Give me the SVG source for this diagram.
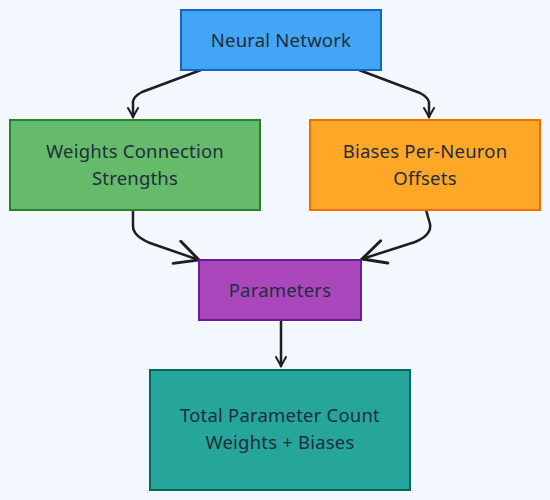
<svg xmlns="http://www.w3.org/2000/svg" width="550" height="500" viewBox="0 0 550 500">
<defs>
<style>
.lbl{font-family:"Noto Sans","Open Sans",sans-serif;font-size:18.5px;fill:#1f2d3d;text-anchor:middle;letter-spacing:0.2px}
.box{stroke-width:2}
.edge{fill:none;stroke:#1e1e1e;stroke-width:2.5;stroke-linecap:round}
</style>
<marker id="arr" viewBox="0 0 12 12" refX="10" refY="6" markerWidth="12" markerHeight="12" markerUnits="userSpaceOnUse" orient="auto">
<path d="M1,1 L10,6 L1,11" fill="none" stroke="#1e1e1e" stroke-width="2" stroke-linecap="round"/>
</marker>
<marker id="arrL" viewBox="0 0 24 24" refX="22" refY="12" markerWidth="28" markerHeight="28" markerUnits="userSpaceOnUse" orient="auto">
<path d="M2,2 L22,12 L2,22" fill="none" stroke="#1e1e1e" stroke-width="2.5" stroke-linecap="round"/>
</marker>
</defs>
<rect width="550" height="500" fill="#f3f7fe"/>
<g id="connectors">
<path class="edge" d="M201,70 L142,92 Q132,97 133,104 L133,117" marker-end="url(#arr)"/>
<path class="edge" d="M359,70 L420,93 Q430,98 429,105 L429,117" marker-end="url(#arr)"/>
<path class="edge" d="M133,210 L133,226 Q133,236 150,243 L199,260" marker-end="url(#arrL)"/>
<path class="edge" d="M426,210 L430,224 Q432,235 415,242 L362,259" marker-end="url(#arrL)"/>
<path class="edge" d="M281,320 L281,366" stroke-width="2" marker-end="url(#arr)"/>
</g>
<g id="neural-network">
<rect class="box" x="181" y="10" width="200" height="60" fill="#42a5f5" stroke="#1565c0"/>
<text class="lbl" x="281" y="47">Neural Network</text>
</g>
<g id="weights">
<rect class="box" x="10" y="120" width="250" height="90" fill="#66bb6a" stroke="#2e7d32"/>
<text class="lbl" x="135" y="158">Weights Connection</text>
<text class="lbl" x="135" y="185">Strengths</text>
</g>
<g id="biases">
<rect class="box" x="310" y="120" width="230" height="90" fill="#ffa726" stroke="#ef6c00"/>
<text class="lbl" x="425" y="158">Biases Per-Neuron</text>
<text class="lbl" x="425" y="185">Offsets</text>
</g>
<g id="parameters">
<rect class="box" x="199" y="260" width="162" height="60" fill="#ab47bc" stroke="#6a1b9a"/>
<text class="lbl" x="280" y="297">Parameters</text>
</g>
<g id="total">
<rect class="box" x="150" y="370" width="260" height="120" fill="#26a69a" stroke="#00695c"/>
<text class="lbl" x="280" y="422">Total Parameter Count</text>
<text class="lbl" x="280" y="449">Weights + Biases</text>
</g>
</svg>
